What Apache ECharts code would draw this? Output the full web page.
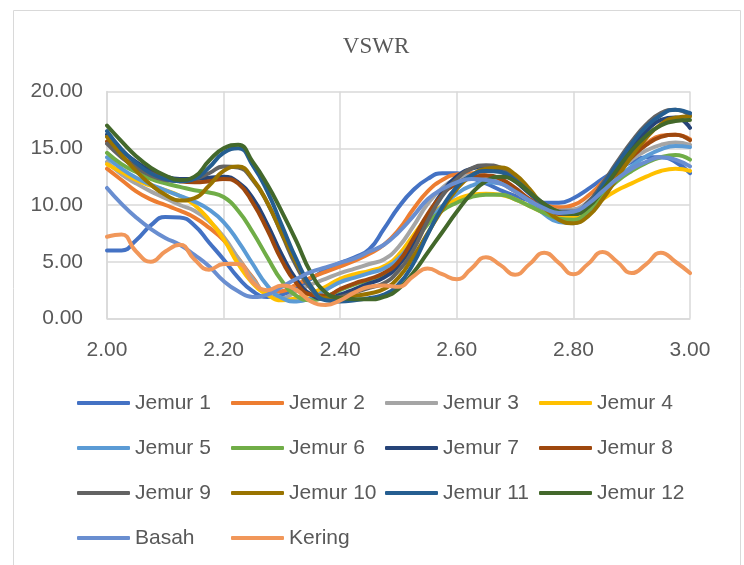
<!DOCTYPE html>
<html>
<head>
<meta charset="utf-8">
<script src="https://cdn.jsdelivr.net/npm/echarts@6/dist/echarts.min.js"></script>
<style>html,body{margin:0;padding:0;background:#fff;}#c{width:744px;height:565px;}</style>
</head>
<body>
<div id="c"></div>
<script>
const freq = [2.000,2.025,2.050,2.075,2.100,2.125,2.150,2.175,2.200,2.225,2.250,2.275,2.300,2.325,2.350,2.375,2.400,2.425,2.450,2.475,2.500,2.525,2.550,2.575,2.600,2.625,2.650,2.675,2.700,2.725,2.750,2.775,2.800,2.825,2.850,2.875,2.900,2.925,2.950,2.975,3.000];

const jemur1 = [6.0,6.0,6.9,8.2,8.95,8.9,8.2,6.7,5.2,3.6,2.4,1.9,2.1,2.7,3.5,4.3,4.9,5.4,6.1,7.9,9.8,11.3,12.3,12.8,12.8,12.4,11.9,11.3,10.8,10.4,10.2,10.2,10.6,11.4,12.3,13.1,13.8,14.2,14.2,13.8,12.8];
const jemur2 = [13.2,12.2,11.2,10.5,10.0,9.5,8.9,8.0,6.9,5.3,3.6,2.3,2.4,3.0,3.6,4.1,4.6,5.1,5.7,6.5,7.8,9.6,11.2,12.2,12.7,12.8,12.6,12.0,11.2,10.5,10.0,9.8,10.0,10.8,12.0,13.2,14.4,15.4,16.1,16.2,15.8];
const jemur3 = [13.8,12.7,11.9,11.2,10.6,10.0,9.5,8.6,7.2,5.3,3.5,2.1,1.8,2.4,3.0,3.5,4.0,4.4,4.8,5.2,6.3,8.1,10.1,11.5,12.3,12.6,12.5,12.0,11.2,10.4,9.8,9.5,9.6,10.3,11.6,12.9,14.0,14.8,15.3,15.5,15.3];
const jemur4 = [13.6,12.9,12.2,11.7,11.3,10.8,10.0,8.7,7.0,4.8,3.1,2.1,1.6,1.8,2.2,2.8,3.5,3.9,4.2,4.6,5.6,7.3,8.9,9.9,10.5,10.9,11.0,10.9,10.5,9.9,9.3,8.9,8.9,9.5,10.5,11.3,11.9,12.5,13.0,13.2,13.0];
const jemur5 = [14.2,13.2,12.4,11.8,11.3,10.8,10.3,9.6,8.5,6.8,4.8,2.9,1.8,1.5,1.8,2.5,3.2,3.6,4.0,4.4,5.3,6.8,8.4,9.9,11.0,11.7,12.0,11.9,11.3,10.3,9.2,8.5,8.4,9.3,10.9,12.3,13.4,14.3,14.9,15.2,15.1];
const jemur6 = [14.6,13.6,12.9,12.3,11.9,11.6,11.3,11.1,10.7,9.5,7.6,5.4,3.3,2.0,1.6,1.9,2.5,3.0,3.4,3.9,4.8,6.4,8.3,9.5,10.2,10.7,10.9,10.9,10.5,9.9,9.3,8.8,8.7,9.5,10.9,12.1,13.0,13.7,14.2,14.4,14.0];
const jemur7 = [16.2,14.8,13.8,13.0,12.5,12.3,12.3,12.4,12.5,12.0,10.6,8.3,5.6,3.4,2.1,1.7,2.1,2.6,3.1,3.6,4.7,6.6,9.0,11.1,12.5,13.2,13.4,13.0,12.1,11.0,10.0,9.4,9.4,10.2,11.8,13.5,15.1,16.5,17.5,17.7,16.8];
const jemur8 = [15.6,14.3,13.4,12.8,12.4,12.1,12.0,12.1,12.3,11.9,10.2,7.8,5.1,3.1,2.1,2.0,2.6,3.1,3.5,4.0,5.0,7.0,9.2,10.9,11.9,12.4,12.6,12.3,11.5,10.5,9.7,9.2,9.2,10.0,11.4,12.9,14.2,15.3,16.0,16.2,15.7];
const jemur9 = [15.4,14.2,13.3,12.6,12.2,12.1,12.3,12.8,13.4,13.3,12.2,10.2,7.4,4.6,2.6,1.7,1.9,2.3,2.7,3.1,4.2,6.0,8.6,10.8,12.3,13.2,13.5,13.3,12.4,11.2,10.1,9.4,9.3,10.2,11.9,13.8,15.6,17.1,18.1,18.4,17.9];
const jemur10 = [16.0,14.4,13.0,11.8,10.9,10.4,10.6,11.7,13.0,13.4,12.3,10.2,7.5,4.9,2.8,1.8,1.8,2.0,2.2,2.6,3.6,5.4,7.5,9.6,11.4,12.6,13.2,13.3,12.7,11.4,9.8,8.7,8.4,9.0,10.5,12.4,14.3,15.9,17.1,17.7,17.8];
const jemur11 = [16.5,14.9,13.7,12.8,12.3,12.1,12.3,13.3,14.6,15.0,13.5,11.2,8.2,5.2,2.8,1.6,1.5,1.6,1.8,2.1,3.0,4.8,7.4,9.8,11.6,12.6,13.0,12.9,12.2,11.1,10.0,9.3,9.2,10.0,11.7,13.6,15.4,16.9,17.9,18.4,18.1];
const jemur12 = [17.0,15.6,14.3,13.3,12.6,12.2,12.5,13.9,15.0,15.3,13.8,11.8,9.4,6.8,4.0,2.3,1.8,1.7,1.7,1.9,2.6,4.0,5.8,7.6,9.4,11.0,12.1,12.5,12.1,11.1,10.1,9.4,9.2,9.8,11.3,13.1,14.8,16.1,17.0,17.4,17.5];
const basah = [11.5,10.1,8.9,7.9,7.1,6.5,5.6,4.6,3.3,2.4,1.9,2.1,2.8,3.5,4.1,4.5,4.9,5.3,5.9,6.5,7.6,9.0,10.5,11.4,12.0,12.3,12.2,11.9,11.2,10.4,9.7,9.3,9.4,10.1,11.2,12.3,13.2,13.8,14.2,14.0,13.4];
const kering = [7.2,7.4,5.9,5.0,5.9,6.5,5.2,4.3,4.8,4.8,3.2,2.5,2.9,2.5,1.5,1.2,1.6,2.3,2.8,2.9,2.8,3.7,4.4,3.9,3.45,4.4,5.4,4.7,3.85,4.8,5.8,4.9,3.9,4.8,5.85,5.0,4.0,4.8,5.8,5.0,4.0];

const seriesNames = ['Jemur 1','Jemur 2','Jemur 3','Jemur 4','Jemur 5','Jemur 6','Jemur 7','Jemur 8','Jemur 9','Jemur 10','Jemur 11','Jemur 12','Basah','Kering'];
const seriesValues = [jemur1,jemur2,jemur3,jemur4,jemur5,jemur6,jemur7,jemur8,jemur9,jemur10,jemur11,jemur12,basah,kering];
const colors = ['#4472C4','#ED7D31','#A5A5A5','#FFC000','#5B9BD5','#70AD47','#264478','#9E480E','#636363','#997300','#255E91','#43682B','#698ED0','#F1975A'];
const xTicks = {min: 2, max: 3, interval: 0.2};
const yTicks = {min: 0, max: 20, interval: 5};

const legendCols = [
  ['Jemur 1','Jemur 5','Jemur 9','Basah'],
  ['Jemur 2','Jemur 6','Jemur 10','Kering'],
  ['Jemur 3','Jemur 7','Jemur 11'],
  ['Jemur 4','Jemur 8','Jemur 12']
];
const legendLefts = [77, 231, 385, 539];

const textColor = '#595959';
const chart = echarts.init(document.getElementById('c'), null, {renderer: 'canvas'});

const series = seriesNames.map((name, k) => ({
  name: name,
  type: 'line',
  data: freq.map((f, i) => [f, seriesValues[k][i]]),
  smooth: 0.5,
  symbol: 'none',
  lineStyle: {width: 4, color: colors[k], cap: 'round', join: 'round'},
  itemStyle: {color: colors[k]},
  emphasis: {disabled: true},
  animation: false
}));

const legends = legendCols.map((col, j) => ({
  data: col.map(n => ({name: n, icon: 'roundRect'})),
  orient: 'vertical',
  left: legendLefts[j],
  top: 391,
  padding: 0,
  itemGap: 21,
  itemWidth: 53,
  itemHeight: 4,
  selectedMode: false,
  textStyle: {fontFamily: 'Liberation Sans', fontSize: 21, color: textColor, lineHeight: 24}
}));

chart.setOption({
  animation: false,
  color: colors,
  title: {
    text: 'VSWR',
    left: 376,
    top: 35,
    textAlign: 'center',
    padding: 0,
    textStyle: {fontFamily: 'Liberation Serif', fontSize: 23, fontWeight: 'normal', color: textColor}
  },
  graphic: [{
    type: 'rect',
    shape: {x: 13.5, y: 10.5, width: 727, height: 580},
    style: {fill: 'none', stroke: '#D9D9D9', lineWidth: 1},
    silent: true
  }],
  legend: legends,
  grid: {left: 107, right: 54, top: 91.5, bottom: 246.5, containLabel: false},
  xAxis: {
    type: 'value',
    min: xTicks.min, max: xTicks.max, interval: xTicks.interval,
    axisLine: {show: true, lineStyle: {color: '#D9D9D9', width: 1.5}},
    axisTick: {show: false},
    splitLine: {show: true, lineStyle: {color: '#D9D9D9', width: 1.5}},
    axisLabel: {margin: 21, fontFamily: 'Liberation Sans', fontSize: 21, color: textColor, formatter: v => v.toFixed(2)}
  },
  yAxis: {
    type: 'value',
    min: yTicks.min, max: yTicks.max, interval: yTicks.interval,
    axisLine: {show: true, lineStyle: {color: '#D9D9D9', width: 1.5}},
    axisTick: {show: false},
    splitLine: {show: true, lineStyle: {color: '#D9D9D9', width: 1.5}},
    axisLabel: {margin: 24, fontFamily: 'Liberation Sans', fontSize: 21, color: textColor, formatter: v => v.toFixed(2)}
  },
  series: series
});
</script>
</body>
</html>
